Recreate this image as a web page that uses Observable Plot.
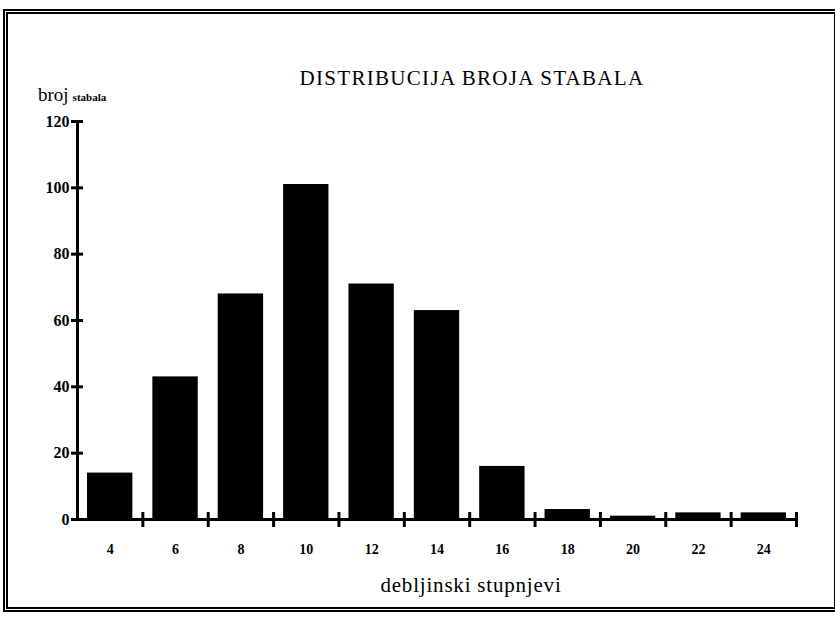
<!DOCTYPE html>
<html>
<head>
<meta charset="utf-8">
<script src="https://cdn.jsdelivr.net/npm/d3@7"></script>
<script src="https://cdn.jsdelivr.net/npm/@observablehq/plot@0.6"></script>
<style>
  html, body { margin: 0; padding: 0; background: #fff; }
  #page { position: relative; width: 835px; height: 624px; overflow: hidden; font-family: "Liberation Serif", "DejaVu Serif", serif; color: #000; }
  #frame { position: absolute; left: 3px; top: 9px; width: 826px; height: 593px; border: 5px double #000; border-right-width: 2px; border-right-style: solid; }
  #chart { position: absolute; left: 0; top: 0; }
  .txt { position: absolute; white-space: nowrap; line-height: 20px; }
  #title { left: 222px; width: 500px; top: 68px; text-align: center; font-size: 21px; letter-spacing: 1.3px; }
  #ylab { left: 38px; top: 85px; }
  #ylab .big { font-size: 19px; }
  #ylab .small { font-size: 11px; font-weight: bold; }
  #xlab { left: 321px; width: 300px; top: 575px; text-align: center; font-size: 21px; letter-spacing: 0.8px; }
</style>
</head>
<body>
<div id="page">
  <div id="frame"></div>
  <div id="chart"></div>
  <div class="txt" id="title">DISTRIBUCIJA BROJA STABALA</div>
  <div class="txt" id="ylab"><span class="big">broj</span> <span class="small">stabala</span></div>
  <div class="txt" id="xlab">debljinski stupnjevi</div>
</div>
<script>
const degrees = [4, 6, 8, 10, 12, 14, 16, 18, 20, 22, 24];
const counts = [14, 43, 68, 101, 71, 63, 16, 3, 1, 2, 2];
const classBounds = [5, 7, 9, 11, 13, 15, 17, 19, 21, 23, 25];
const yTicks = [0, 20, 40, 60, 80, 100, 120];

const data = degrees.map((d, i) => ({d, n: counts[i]}));

const chart = Plot.plot({
  width: 835,
  height: 624,
  marginLeft: 77,
  marginRight: 39,
  marginTop: 121,
  marginBottom: 105,
  style: {fontFamily: "'Liberation Serif', 'DejaVu Serif', serif", fontSize: "13px", fontWeight: "bold", background: "transparent", color: "#000"},
  x: {domain: [3, 25]},
  y: {domain: [0, 120]},
  marks: [
    Plot.rectY(data, {x1: d => d.d - 1, x2: d => d.d + 1, y: "n", fill: "#000", insetLeft: 10, insetRight: 10}),
    Plot.ruleY([0], {stroke: "#000", strokeWidth: 3}),
    Plot.ruleX([3], {stroke: "#000", strokeWidth: 3}),
    Plot.axisX(classBounds, {tickSize: 15, dy: -7, tickFormat: () => "", strokeWidth: 3, label: null}),
    Plot.axisX(degrees, {tickSize: 0, tickPadding: 25, fontSize: 14, label: null}),
    Plot.axisY(yTicks, {tickSize: 12, dx: 6, tickPadding: 2, strokeWidth: 3, fontSize: 16, label: null})
  ]
});
document.getElementById("chart").appendChild(chart);
</script>
</body>
</html>
